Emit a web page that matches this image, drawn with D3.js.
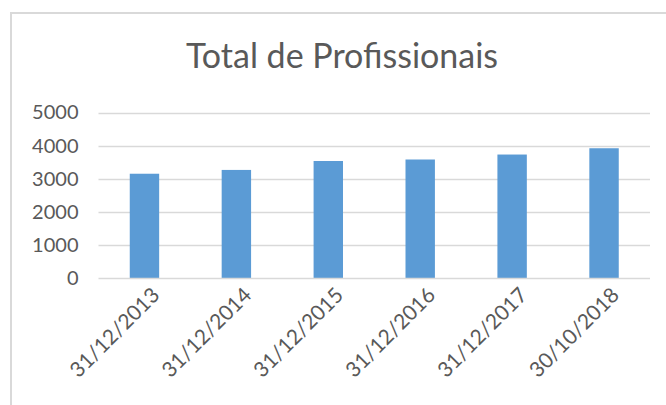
<!DOCTYPE html>
<html><head><meta charset="utf-8">
<script src="https://cdn.jsdelivr.net/npm/d3@7"></script>
<style>html,body{margin:0;padding:0;background:#fff;}svg{display:block;}</style>
</head><body>
<svg id="c" width="666" height="405"></svg>
<script>
const categories = ["31/12/2013","31/12/2014","31/12/2015","31/12/2016","31/12/2017","30/10/2018"];
const values = [3150, 3265, 3535, 3580, 3730, 3920];
const yTicks = [0, 1000, 2000, 3000, 4000, 5000];
const title = "Total de Profissionais";

const font = "Lato, 'Open Sans', sans-serif";
const svg = d3.select("#c");
const m = {left: 98.5, right: 650, top: 112.5, bottom: 278};

// outer chart border (only top and left visible)
svg.append("line").attr("x1",10).attr("x2",666).attr("y1",13).attr("y2",13).attr("stroke","#d9d9d9").attr("stroke-width",2);
svg.append("line").attr("x1",11).attr("x2",11).attr("y1",12).attr("y2",405).attr("stroke","#d9d9d9").attr("stroke-width",2);

const x = d3.scaleBand().domain(categories).range([m.left, m.right]).padding(0);
const y = d3.scaleLinear().domain([0,5000]).range([m.bottom, m.top]);

// gridlines
svg.append("g").selectAll("line").data(yTicks.filter(d=>d>0)).join("line")
  .attr("x1",m.left).attr("x2",m.right)
  .attr("y1",d=>Math.round(y(d))+0.5).attr("y2",d=>Math.round(y(d))+0.5)
  .attr("stroke","#d9d9d9").attr("stroke-width",1.5);

// y axis labels
const yAxis = d3.axisLeft(y).tickValues(yTicks).tickSize(0).tickPadding(20).tickFormat(d3.format("d"));
const ya = svg.append("g").attr("transform",`translate(${m.left},0)`).call(yAxis);
ya.select(".domain").remove();
ya.selectAll("text").attr("font-family",font).attr("font-size",20).attr("fill","#595959");

// bars
const bw = x.bandwidth()*0.32;
svg.append("g").selectAll("rect").data(values).join("rect")
  .attr("x",(d,i)=>x(categories[i])+x.bandwidth()/2-bw/2)
  .attr("width",bw)
  .attr("y",d=>y(d))
  .attr("height",d=>y(0)-y(d))
  .attr("fill","#5b9bd5");

// x axis line
svg.append("line").attr("x1",m.left).attr("x2",m.right).attr("y1",m.bottom+0.5).attr("y2",m.bottom+0.5)
  .attr("stroke","#d9d9d9").attr("stroke-width",1.5);

// x labels
const xAxis = d3.axisBottom(x).tickSize(0).tickPadding(0);
const xa = svg.append("g").attr("transform",`translate(0,${m.bottom})`).call(xAxis);
xa.select(".domain").remove();
xa.selectAll("text")
  .attr("font-family",font).attr("font-size",21).attr("fill","#595959")
  .attr("text-anchor","end").attr("dy","0.7em")
  .attr("transform","translate(6,8) rotate(-45)");

// title
svg.append("text").attr("x",342).attr("y",68).attr("text-anchor","middle")
  .attr("font-family",font).attr("font-size",34).attr("fill","#595959").text(title);
</script>
</body></html>
